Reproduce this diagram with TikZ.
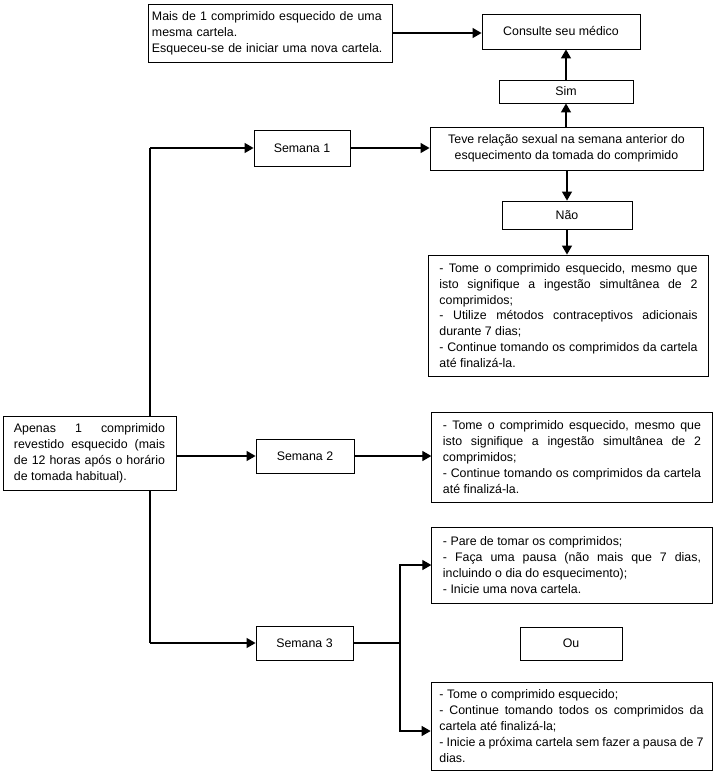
\documentclass[tikz,border=0pt]{standalone}
\usepackage{fontspec}
\setmainfont{Liberation Sans}
\usetikzlibrary{arrows.meta}
\newcommand\fontecaixa{\fontsize{8.8}{11.3}\selectfont\hyphenpenalty=10000 \exhyphenpenalty=10000 }

\begin{document}
\begin{tikzpicture}[x=0.025cm, y=-0.025cm, every node/.style={font=\fontecaixa}]
    \tikzset{box/.style={draw, line width=0.6pt, fill=white, inner sep=0pt},
             acoes/.style={box, text width=6.45cm, inner xsep=0.28cm, align=justify},
             seta/.style={-{Triangle[length=2.25mm, width=2.5mm]}, line width=0.9pt}}

    \useasboundingbox (0,0) rectangle (715,778);

    % tronco da esquerda
    \coordinate (t1) at (150,148);
    \coordinate (t3) at (150,643);
    \draw[line width=0.9pt] (t1) -- (t3);

    \node[box, text width=5.9cm, inner xsep=0.1cm, minimum height=1.45cm, align=left] (mais) at (270,33)
        {Mais de 1 comprimido esquecido de uma\\mesma cartela.\\Esqueceu-se de iniciar uma nova cartela.};
    \node[box, minimum width=3.95cm, minimum height=0.875cm] (consulte) at (561,31.5) {Consulte seu médico};
    \node[box, minimum width=3.35cm, minimum height=0.575cm] (sim) at (566,91.5) {Sim};
    \node[box, minimum width=6.825cm, minimum height=1.075cm, align=center] (teve) at (566.5,148.5)
        {Teve relação sexual na semana anterior do\\esquecimento da tomada do comprimido};
    \node[box, minimum width=3.25cm, minimum height=0.7cm] (nao) at (567,215) {Não};
    \node[acoes, minimum height=3.025cm] (acoesA) at (568.5,315.5)
        {- Tome o comprimido esquecido, mesmo que isto signifique a ingestão simultânea de 2 comprimidos;\\
         - Utilize métodos contraceptivos adicionais durante 7 dias;\\
         - Continue tomando os comprimidos da cartela até finalizá-la.};

    \node[box, minimum width=2.4cm, minimum height=0.9cm] (sem1) at (302,148) {Semana 1};
    \node[box, minimum width=2.45cm, minimum height=0.85cm] (sem2) at (305,456) {Semana 2};
    \node[box, minimum width=2.425cm, minimum height=0.85cm] (sem3) at (304.5,643) {Semana 3};

    \node[box, text width=3.775cm, inner xsep=0.275cm, minimum height=1.85cm, align=justify] (apenas) at (89.5,453)
        {Apenas 1 comprimido revestido esquecido (mais de 12 horas após o horário de tomada habitual).};

    \node[acoes, minimum height=2.25cm] (acoesB) at (572,457)
        {- Tome o comprimido esquecido, mesmo que isto signifique a ingestão simultânea de 2 comprimidos;\\
         - Continue tomando os comprimidos da cartela até finalizá-la.};
    \node[acoes, minimum height=1.9cm] (acoesC) at (572,565)
        {- Pare de tomar os comprimidos;\\
         - Faça uma pausa (não mais que 7 dias, incluindo o dia do esquecimento);\\
         - Inicie uma nova cartela.};
    \node[box, minimum width=2.55cm, minimum height=0.825cm] (ou) at (571,643.5) {Ou};
    \node[acoes, text width=6.6cm, inner xsep=0.21cm, minimum height=2.2cm] (acoesD) at (571.5,726)
        {- Tome o comprimido esquecido;\\
         - Continue tomando todos os comprimidos da cartela até finalizá-la;\\
         - Inicie a próxima cartela sem fazer a pausa de 7 dias.};

    \draw[seta] (mais.east) -- (mais.east -| consulte.west);
    \draw[seta] (sim.north) -- (sim.north |- consulte.south);
    \draw[seta] (teve.north -| sim) -- (sim.south);
    \draw[seta] (teve.south -| nao) -- (nao.north);
    \draw[seta] (nao.south) -- (nao.south |- acoesA.north);

    \draw[seta] (t1) -- (sem1.west);
    \draw[seta] (sem1.east) -- (sem1.east -| teve.west);
    \draw[seta] (apenas.east |- sem2) -- (sem2.west);
    \draw[seta] (sem2.east) -- (sem2.east -| acoesB.west);
    \draw[seta] (t3) -- (sem3.west);

    % ramos da semana 3
    \coordinate (j) at (400,643);
    \draw[line width=1.4pt] (sem3.east) -- (j);
    \draw[seta] (j) |- (acoesC.west);
    \draw[seta] (j) |- ([yshift=-0.125cm]acoesD.west);
\end{tikzpicture}
\end{document}
